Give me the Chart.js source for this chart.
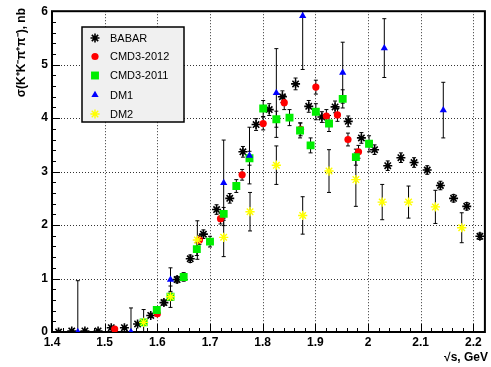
<!DOCTYPE html>
<html><head><meta charset="utf-8">
<script src="https://cdn.jsdelivr.net/npm/chart.js@4.4.0/dist/chart.umd.min.js"></script>
<style>html,body{margin:0;padding:0;background:#fff}canvas{display:block}</style>
</head><body>
<canvas id="c" width="491" height="367"></canvas>
<script>
// ---- data ----
const xTicks = [1.4, 1.5, 1.6, 1.7, 1.8, 1.9, 2.0, 2.1, 2.2];
const yTicks = [0, 1, 2, 3, 4, 5, 6];

const babarX = [1.4125,1.4375,1.4625,1.4875,1.5125,1.5375,1.5625,1.5875,1.6125,1.6375,1.6625,1.6875,1.7125,1.7375,1.7625,1.7875,1.8125,1.8375,1.8625,1.8875,1.9125,1.9375,1.9625,1.9875,2.0125,2.0375,2.0625,2.0875,2.1125,2.1375,2.1625,2.1875,2.2125];
const babarY = [0.00,0.02,0.02,0.02,0.08,0.08,0.15,0.31,0.55,0.98,1.37,1.83,2.29,2.50,3.37,3.88,4.16,4.40,4.64,4.22,4.02,4.21,3.94,3.63,3.41,3.11,3.26,3.17,3.03,2.74,2.50,2.35,1.79];
const babarErr = [0.01,0.01,0.01,0.01,0.02,0.02,0.03,0.04,0.05,0.06,0.07,0.08,0.09,0.09,0.10,0.11,0.11,0.11,0.11,0.11,0.10,0.11,0.10,0.10,0.09,0.09,0.09,0.09,0.08,0.08,0.07,0.07,0.06];

const cmd12X = [1.519,1.600,1.680,1.720,1.761,1.801,1.841,1.872,1.901,1.921,1.942,1.962,1.982];
const cmd12Y = [0.055,0.34,1.72,2.12,2.94,3.90,4.29,3.79,4.58,4.04,4.06,3.60,3.37];
const cmd12Err = [0.03,0.04,0.08,0.10,0.10,0.12,0.13,0.12,0.13,0.12,0.12,0.12,0.12];

const cmd11X = [1.574,1.599,1.625,1.650,1.675,1.700,1.726,1.750,1.775,1.801,1.826,1.851,1.871,1.891,1.901,1.926,1.952,1.977,2.002];
const cmd11Y = [0.18,0.41,0.66,1.03,1.55,1.69,2.21,2.73,3.25,4.18,3.98,4.01,3.77,3.49,4.12,3.90,4.36,3.27,3.52];
const cmd11Err = [0.04,0.05,0.07,0.08,0.12,0.10,0.12,0.12,0.13,0.15,0.15,0.15,0.14,0.14,0.15,0.15,0.17,0.15,0.15];

const dm1X = [1.449,1.550,1.625,1.726,1.775,1.826,1.876,1.952,2.031,2.143];
const dm1Y = [0.00,0.00,0.98,2.79,3.30,4.47,5.91,4.85,5.31,4.15];
const dm1Err = [0.96,0.45,0.22,0.80,0.53,0.83,1.00,0.57,0.55,0.52];

const dm2X = [1.574,1.625,1.676,1.726,1.776,1.826,1.876,1.926,1.977,2.027,2.077,2.128,2.178];
const dm2Y = [0.18,0.66,1.72,1.77,2.25,3.12,2.18,3.01,2.85,2.43,2.43,2.34,1.95];
const dm2Err = [0.24,0.20,0.36,0.36,0.36,0.36,0.35,0.40,0.50,0.33,0.30,0.31,0.28];

const seriesLabels = ['BABAR', 'CMD3-2012', 'CMD3-2011', 'DM1', 'DM2'];

// ---- helpers ----
function pts(xs, ys) { return xs.map((x, i) => ({x: x, y: ys[i]})); }
const FONT = '"Liberation Sans", Arial, Helvetica, sans-serif';

const datasets = [
  {label: seriesLabels[0], data: pts(babarX, babarY), err: babarErr, order: 4,
   pointStyle: 'star', radius: 4.5, borderColor: '#000', backgroundColor: '#000', borderWidth: 1.6},
  {label: seriesLabels[1], data: pts(cmd12X, cmd12Y), err: cmd12Err, order: 3,
   pointStyle: 'circle', radius: 3.6, borderColor: '#ff0000', backgroundColor: '#ff0000', borderWidth: 0},
  {label: seriesLabels[2], data: pts(cmd11X, cmd11Y), err: cmd11Err, order: 2,
   pointStyle: 'rect', radius: 5.6, borderColor: '#00ee00', backgroundColor: '#00ee00', borderWidth: 0},
  {label: seriesLabels[3], data: pts(dm1X, dm1Y), err: dm1Err, order: 1,
   pointStyle: 'triangle', radius: 4.2, borderColor: '#0000ff', backgroundColor: '#0000ff', borderWidth: 0},
  {label: seriesLabels[4], data: pts(dm2X, dm2Y), err: dm2Err, order: 0,
   pointStyle: 'star', radius: 4.6, borderColor: '#ffff00', backgroundColor: '#ffff00', borderWidth: 1.4}
];

function line(ctx, x1, y1, x2, y2) { ctx.beginPath(); ctx.moveTo(x1, y1); ctx.lineTo(x2, y2); ctx.stroke(); }

const decor = {
  id: 'decor',
  beforeDatasetsDraw(chart) {
    const {ctx, chartArea: a, scales: {x, y}} = chart;
    ctx.save();
    // dotted grid
    ctx.strokeStyle = '#333'; ctx.lineWidth = 1; ctx.setLineDash([1, 2]);
    xTicks.forEach(v => {
      const px = Math.round(x.getPixelForValue(v)) + 0.5;
      if (px <= a.left + 2 || px >= a.right - 2) return;
      line(ctx, px, a.top, px, a.bottom);
    });
    yTicks.forEach(v => {
      const py = Math.round(y.getPixelForValue(v)) + 0.5;
      if (py >= a.bottom - 2 || py <= a.top + 2) return;
      line(ctx, a.left, py, a.right, py);
    });
    ctx.setLineDash([]);
    // inward ticks
    ctx.strokeStyle = '#000'; ctx.lineWidth = 1;
    for (let k = 0; k <= 41; k++) {
      const v = 1.4 + k * 0.02;
      const px = Math.round(x.getPixelForValue(v)) + 0.5;
      if (px > a.right) break;
      const len = (k % 5 === 0) ? 8 : 4;
      line(ctx, px, a.bottom, px, a.bottom - len);
    }
    for (let k = 0; k <= 30; k++) {
      const v = k * 0.2;
      const py = Math.round(y.getPixelForValue(v)) + 0.5;
      const len = (k % 5 === 0) ? 8 : 4;
      line(ctx, a.left, py, a.left + len, py);
    }
    // frame
    ctx.lineWidth = 2;
    ctx.strokeRect(a.left, a.top, a.right - a.left, a.bottom - a.top);
    // error bars
    ctx.beginPath(); ctx.rect(a.left, a.top, a.right - a.left, a.bottom - a.top); ctx.clip();
    ctx.lineWidth = 1; ctx.strokeStyle = '#000';
    chart.data.datasets.forEach(ds => {
      ds.data.forEach((p, i) => {
        const e = ds.err[i];
        const px = x.getPixelForValue(p.x);
        const y1 = y.getPixelForValue(p.y - e), y2 = y.getPixelForValue(p.y + e);
        line(ctx, px, y1, px, y2);
        line(ctx, px - 2, y1, px + 2, y1);
        line(ctx, px - 2, y2, px + 2, y2);
      });
    });
    ctx.restore();
  },
  afterDatasetsDraw(chart) {
    const ctx = chart.ctx;
    ctx.save();
    // legend box
    const L = 82, T = 27, W = 102, H = 95;
    ctx.fillStyle = '#f0f0f0';
    ctx.fillRect(L, T, W, H);
    ctx.strokeStyle = '#000'; ctx.lineWidth = 1.5;
    ctx.strokeRect(L, T, W, H);
    const rows = [38, 56.5, 75.5, 95, 114];
    ctx.font = '11px ' + FONT; ctx.textBaseline = 'middle'; ctx.textAlign = 'left';
    chart.data.datasets.forEach((ds, i) => {
      const opts = {pointStyle: ds.pointStyle, radius: ds.radius, rotation: 0, borderWidth: ds.borderWidth};
      ctx.fillStyle = ds.backgroundColor; ctx.strokeStyle = ds.borderColor; ctx.lineWidth = ds.borderWidth;
      Chart.helpers.drawPoint(ctx, opts, 95, rows[i]);
      ctx.fillStyle = '#000';
      ctx.fillText(ds.label, 110, rows[i] + 0.5);
    });
    ctx.restore();
  },
  afterDraw(chart) {
    const ctx = chart.ctx;
    ctx.save();
    ctx.fillStyle = '#000';
    ctx.font = 'bold 12px ' + FONT;
    ctx.textAlign = 'right'; ctx.textBaseline = 'alphabetic';
    ctx.fillText('\u221As, GeV', 488, 361);
    ctx.translate(25, 8);
    ctx.rotate(-Math.PI / 2);
    ctx.font = 'bold 12px ' + FONT;
    ctx.textAlign = 'right';
    ctx.fillText('\u03C3(K\u207AK\u207B\u03C0\u207A\u03C0\u207B), nb', 0, 0);
    ctx.restore();
  }
};

new Chart(document.getElementById('c'), {
  type: 'scatter',
  data: {datasets: datasets},
  options: {
    responsive: false, animation: false, devicePixelRatio: 1,
    layout: {padding: {top: 6, right: 2, left: 0, bottom: 0}},
    plugins: {legend: {display: false}, tooltip: {enabled: false}},
    scales: {
      x: {
        type: 'linear', min: 1.4, max: 2.222,
        afterBuildTicks: s => { s.ticks = xTicks.map(v => ({value: v})); },
        afterFit: s => { s.height = 35; },
        grid: {display: false, drawTicks: false}, border: {display: false},
        ticks: {autoSkip: false, maxRotation: 0, padding: 3, color: '#000',
                font: {family: FONT, size: 12, weight: 'bold'},
                callback: v => String(Math.round(v * 10) / 10)}
      },
      y: {
        type: 'linear', min: 0, max: 6,
        afterBuildTicks: s => { s.ticks = yTicks.map(v => ({value: v})); },
        afterFit: s => { s.width = 52; },
        grid: {display: false, drawTicks: false}, border: {display: false},
        ticks: {autoSkip: false, padding: 4, color: '#000',
                font: {family: FONT, size: 12, weight: 'bold'},
                callback: v => String(v)}
      }
    }
  },
  plugins: [decor]
});
</script>
</body></html>
